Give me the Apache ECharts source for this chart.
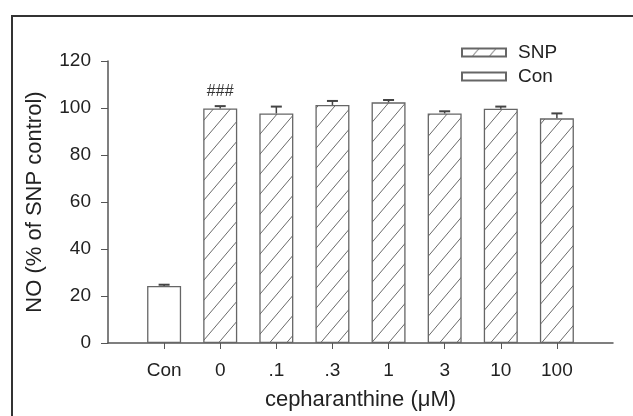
<!DOCTYPE html>
<html>
<head>
<meta charset="utf-8">
<script src="https://cdn.jsdelivr.net/npm/echarts@6/dist/echarts.min.js"></script>
<style>
html,body{margin:0;padding:0;background:#fff;}
#chart{width:633px;height:416px;}
</style>
</head>
<body>
<div id="chart"></div>
<script>
// ---- data ----
var categories = ['', 'Con', '0', '.1', '.3', '1', '3', '10', '100', ''];
var conCategory = 'Con';
var conValue = 24.3;
var conError = 0.5;
var snpCategories = ['0', '.1', '.3', '1', '3', '10', '100'];
var snpValues = [99.8, 97.7, 101.3, 102.4, 97.7, 99.7, 95.6];
var snpErrors = [1.0, 2.9, 1.7, 1.0, 0.9, 0.9, 2.1];
var yTicks = [0, 20, 40, 60, 80, 100, 120];
var sigLabel = '###';

// hatch pattern
var TW = 17, TH = 20;
var tile = document.createElement('canvas');
tile.width = TW; tile.height = TH;
var tc = tile.getContext('2d');
tc.fillStyle = '#fff'; tc.fillRect(0, 0, TW, TH);
tc.strokeStyle = '#6a6a6a'; tc.lineWidth = 1;
tc.beginPath();
tc.moveTo(0, TH); tc.lineTo(TW, 0);
tc.moveTo(-TW, TH); tc.lineTo(0, 0);
tc.moveTo(TW, TH); tc.lineTo(2 * TW, 0);
tc.stroke();
var hatch = { image: tile, repeat: 'repeat' };

var conData = categories.map(function (c) { return c === conCategory ? conValue : null; });
var snpData = categories.map(function (c) {
  var i = snpCategories.indexOf(c);
  if (i < 0 || c === '') return null;
  if (i === 0) return { value: snpValues[i], label: { show: true, formatter: sigLabel, position: 'top', distance: 9, fontSize: 16, color: '#333', fontFamily: 'Liberation Sans' } };
  return snpValues[i];
});
var errData = [];
categories.forEach(function (c, idx) {
  if (c === conCategory) errData.push([idx, conValue, conError]);
  var i = snpCategories.indexOf(c);
  if (i >= 0 && c !== '') errData.push([idx, snpValues[i], snpErrors[i]]);
});

var chart = echarts.init(document.getElementById('chart'), null, { renderer: 'canvas' });
var font = 'Liberation Sans';
chart.setOption({
  animation: false,
  backgroundColor: '#fff',
  textStyle: { fontFamily: font },
  graphic: [{
    type: 'polyline',
    shape: { points: [[12, 420], [12, 16], [640, 16]] },
    style: { stroke: '#333', lineWidth: 2, fill: null },
    silent: true
  }],
  legend: {
    orient: 'vertical',
    left: 461, top: 43,
    padding: 0,
    itemWidth: 44, itemHeight: 8,
    itemGap: 5,
    data: [
      { name: 'SNP', icon: 'rect' },
      { name: 'Con', icon: 'rect' }
    ],
    textStyle: { fontSize: 19, color: '#222', fontFamily: font, padding: [0, 0, 0, 7] }
  },
  grid: { left: 108, right: 20, top: 61, bottom: 73, containLabel: false },
  xAxis: {
    type: 'category',
    data: categories,
    boundaryGap: false,
    axisLine: { lineStyle: { color: '#555', width: 1.5 } },
    axisTick: { length: 6, lineStyle: { color: '#555' }, interval: function (i, v) { return v !== ''; } },
    axisLabel: { fontSize: 19, color: '#222', margin: 18, interval: 0 },
    name: 'cepharanthine (\u03bcM)',
    nameLocation: 'middle',
    nameGap: 46,
    nameTextStyle: { fontSize: 22, color: '#222' }
  },
  yAxis: {
    type: 'value',
    min: 0, max: 120, interval: 20,
    splitLine: { show: false },
    axisLine: { show: true, lineStyle: { color: '#555', width: 1.5 } },
    axisTick: { show: true, length: 7, lineStyle: { color: '#555' } },
    axisLabel: { fontSize: 19, color: '#222', margin: 17,
      formatter: function (v) { return yTicks.indexOf(v) >= 0 ? String(v) : ''; } },
    name: 'NO (% of SNP control)',
    nameLocation: 'middle',
    nameGap: 62,
    nameTextStyle: { fontSize: 22, color: '#222' }
  },
  series: [
    {
      name: 'SNP', type: 'bar', data: snpData, barWidth: 34, barGap: '-100%',
      itemStyle: { color: hatch, borderColor: '#666', borderWidth: 1.3 }
    },
    {
      name: 'Con', type: 'bar', data: conData, barWidth: 34, barGap: '-100%',
      itemStyle: { color: '#fff', borderColor: '#666', borderWidth: 1.3 }
    },
    {
      type: 'custom', name: 'err', silent: true, z: 5,
      data: errData,
      renderItem: function (params, api) {
        var x = api.value(0), v = api.value(1), e = api.value(2);
        var p0 = api.coord([x, v]);
        var p1 = api.coord([x, v + e]);
        return {
          type: 'group',
          children: [
            { type: 'line', shape: { x1: p0[0], y1: p0[1], x2: p1[0], y2: p1[1] }, style: { stroke: '#444', lineWidth: 1.5 } },
            { type: 'line', shape: { x1: p1[0] - 5.5, y1: p1[1], x2: p1[0] + 5.5, y2: p1[1] }, style: { stroke: '#444', lineWidth: 2 } }
          ]
        };
      }
    }
  ]
});
</script>
</body>
</html>
